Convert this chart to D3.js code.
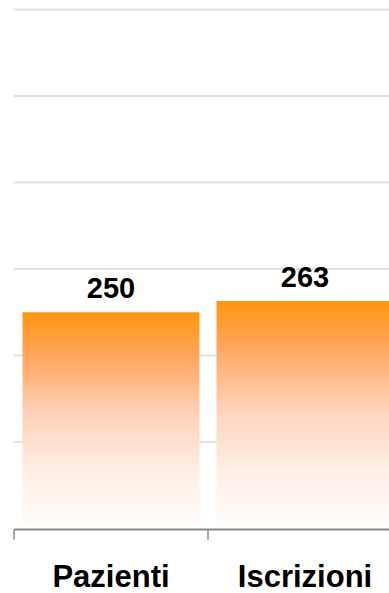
<!DOCTYPE html>
<html>
<head>
<meta charset="utf-8">
<script src="https://cdn.jsdelivr.net/npm/d3@7"></script>
<style>
  html, body { margin: 0; padding: 0; background: #ffffff; }
  svg { display: block; }
</style>
</head>
<body>
<svg id="chart" width="389" height="593"></svg>
<script>
// Categories and their counts
const categories = ["Pazienti", "Iscrizioni"];
const values = [250, 263];
// Horizontal gridline values
const gridValues = [100, 200, 300, 400, 500, 600];

const width = 389, height = 593;
const svg = d3.select("#chart");

const y = d3.scaleLinear().domain([0, 600]).range([528.5, 9.5]);
const pad = 0.0876;
const x = d3.scaleBand()
  .domain(categories)
  .range([14, 402])
  .paddingInner(pad)
  .paddingOuter(pad / 2);
const step = x.step();

// Vertical gradient used for the bars: strong orange fading to white
const defs = svg.append("defs");
const grad = defs.append("linearGradient")
  .attr("id", "barFill")
  .attr("x1", 0).attr("y1", 0).attr("x2", 0).attr("y2", 1);
[
  [0, "#ff950f"],
  [0.22, "#ffa862"],
  [0.48, "#ffd3bb"],
  [0.75, "#ffefe6"],
  [1, "#fffcfa"]
].forEach(([o, c]) => grad.append("stop").attr("offset", o).attr("stop-color", c));

// Gridlines
svg.append("g")
  .selectAll("line")
  .data(gridValues)
  .join("line")
  .attr("x1", 14).attr("x2", width)
  .attr("y1", d => y(d)).attr("y2", d => y(d))
  .attr("stroke", "#e2e2e2")
  .attr("stroke-width", 2);

// Bars
svg.append("g")
  .selectAll("rect")
  .data(values)
  .join("rect")
  .attr("x", (d, i) => x(categories[i]))
  .attr("y", d => y(d))
  .attr("width", x.bandwidth())
  .attr("height", d => y(0) - y(d) - 1.5)
  .attr("fill", "url(#barFill)");

// Value labels
svg.append("g")
  .selectAll("text")
  .data(values)
  .join("text")
  .attr("x", (d, i) => x(categories[i]) + x.bandwidth() / 2)
  .attr("y", d => y(d) - 14.5)
  .attr("text-anchor", "middle")
  .attr("font-family", "'Liberation Sans', Arial, sans-serif")
  .attr("font-weight", "bold")
  .attr("font-size", 29)
  .attr("fill", "#000")
  .text(d => d);

// Category axis: baseline and boundary ticks
const axis = svg.append("g");
axis.append("line")
  .attr("x1", 14).attr("x2", width)
  .attr("y1", y(0) + 1).attr("y2", y(0) + 1)
  .attr("stroke", "#878787")
  .attr("stroke-width", 2);
const bounds = categories.map(c => x(c) - step * pad / 2).concat([x(categories[categories.length - 1]) + x.bandwidth() + step * pad / 2]);
axis.selectAll("line.tick")
  .data(bounds)
  .join("line")
  .attr("class", "tick")
  .attr("x1", d => d).attr("x2", d => d)
  .attr("y1", y(0) + 1).attr("y2", y(0) + 11)
  .attr("stroke", "#878787")
  .attr("stroke-width", 1.5);

axis.selectAll("text")
  .data(categories)
  .join("text")
  .attr("x", d => x(d) + x.bandwidth() / 2)
  .attr("y", 587)
  .attr("text-anchor", "middle")
  .attr("font-family", "'Liberation Sans', Arial, sans-serif")
  .attr("font-weight", "bold")
  .attr("font-size", 31)
  .attr("fill", "#000")
  .text(d => d);
</script>
</body>
</html>
